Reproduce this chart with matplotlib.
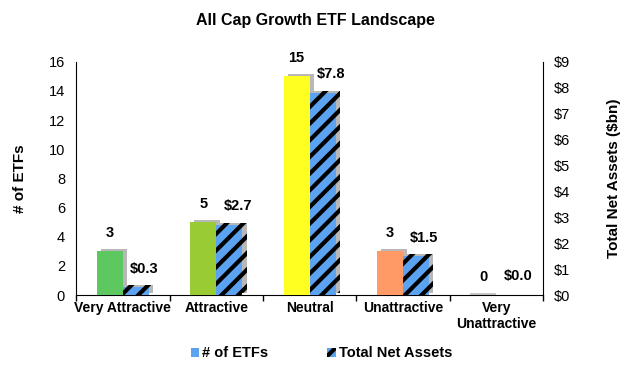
import matplotlib
matplotlib.use('Agg')
import matplotlib.pyplot as plt
import matplotlib.patheffects as pe
from matplotlib.patches import Patch
import numpy as np

plt.rcParams['font.family'] = ['Liberation Sans', 'DejaVu Sans']
plt.rcParams['hatch.linewidth'] = 3.0
plt.rcParams['hatch.color'] = 'black'

categories = ['Very Attractive', 'Attractive', 'Neutral', 'Unattractive',
              'Very\nUnattractive']
num_etfs = [3, 5, 15, 3, 0]
net_assets = [0.3, 2.7, 7.8, 1.5, 0.0]
etf_colors = ['#5ec860', '#99cc33', '#ffff22', '#ff9966', '#bfbfbf']
asset_labels = ['$%.1f' % v for v in net_assets]

fig = plt.figure(figsize=(6.3, 3.68), dpi=100)
ax = fig.add_axes([0.121, 0.198, 0.741, 0.634])
ax2 = ax.twinx()

x = np.arange(len(categories))
w = 0.28
shadow = [pe.SimplePatchShadow(offset=(3, 1.5), shadow_rgbFace='#a0a0a0', alpha=0.75),
          pe.Normal()]

bars1 = ax.bar(x - w / 2, num_etfs, w, color=etf_colors, zorder=3)
bars2 = ax2.bar(x + w / 2, net_assets, w, color='#5ba3f0', edgecolor='black',
                hatch='//', linewidth=0, zorder=3)
for b in list(bars1) + list(bars2):
    b.set_path_effects(shadow)
# flat grey stub where a count is zero
ax.bar(x - w / 2, [0.12 if v == 0 else 0 for v in num_etfs], w,
       color='#c8c8c8', zorder=2)

for xi, v in zip(x, num_etfs):
    ax.text(xi - w / 2, v + 0.75, str(v), ha='center', va='bottom',
            fontsize=10.5, fontweight='bold')
for xi, v, lab in zip(x, net_assets, asset_labels):
    ax2.text(xi + w / 2 + 0.09, v + 0.45, lab, ha='center', va='bottom',
             fontsize=10.5, fontweight='bold')

ax.set_xlim(-0.5, len(categories) - 0.5)
ax.set_ylim(0, 16)
ax.set_yticks(range(0, 17, 2))
ax2.set_ylim(0, 9)
ax2.set_yticks(range(0, 10))
ax2.set_yticklabels(['$%d' % v for v in range(0, 10)])

ax.set_xticks(x)
ax.set_xticklabels(categories, fontweight='bold', fontsize=10)
ax.set_xticks(np.arange(-0.5, len(categories)), minor=True)
ax.tick_params(axis='x', which='major', length=0, pad=4)
ax.tick_params(axis='x', which='minor', length=4, width=1)
ax.tick_params(axis='y', length=0, labelsize=10.5, pad=8)
ax2.tick_params(axis='y', length=0, labelsize=10.5, pad=8)

for a in (ax, ax2):
    a.spines['top'].set_visible(False)
ax.spines['right'].set_visible(False)
ax2.spines['left'].set_visible(False)
ax2.spines['bottom'].set_visible(False)

ax.set_ylabel('# of ETFs', fontweight='bold', fontsize=11, labelpad=16)
ax2.set_ylabel('Total Net Assets ($bn)', fontweight='bold', fontsize=11, labelpad=26)
fig.suptitle('All Cap Growth ETF Landscape', fontweight='bold', fontsize=11.5, y=0.965)

handles = [Patch(facecolor='#5ba3f0', label='# of ETFs'),
           Patch(facecolor='#5ba3f0', edgecolor='black', hatch='//',
                 linewidth=0, label='Total Net Assets')]
fig.legend(handles=handles, loc='lower center', ncol=2, frameon=False,
           bbox_to_anchor=(0.51, -0.015), handlelength=0.6,
           handleheight=0.6, handletextpad=0.2, columnspacing=4.0,
           prop={'weight': 'bold', 'size': 10.5})

fig.savefig('out.png', dpi=100)
